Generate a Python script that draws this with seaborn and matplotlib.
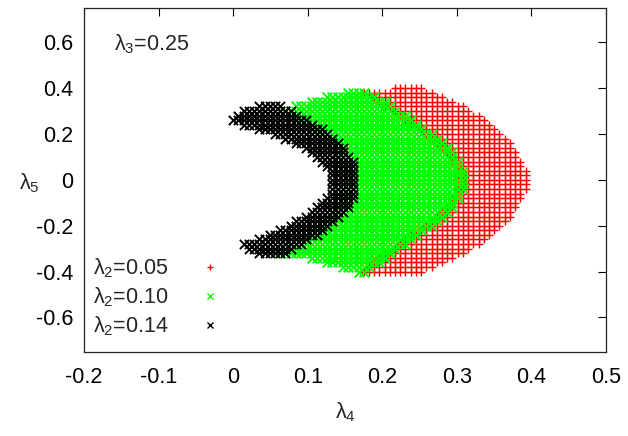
import numpy as np
import pandas as pd
import matplotlib
matplotlib.use("Agg")
import matplotlib.pyplot as plt
import seaborn as sns

# Scan rows: (lambda5 value, lambda4 lower bound, lambda4 upper bound) of each allowed strip
l5_black = [-0.32, -0.30, -0.28, -0.26, -0.24, -0.22, -0.20, -0.18, -0.16, -0.14, -0.12,
            -0.10, -0.08, -0.06, -0.04, -0.02, 0.00, 0.02, 0.04, 0.06, 0.08, 0.10, 0.12,
            0.14, 0.16, 0.18, 0.20, 0.22, 0.24, 0.26, 0.28, 0.30, 0.32]
lo_black = [0.035, 0.020, 0.014, 0.031, 0.046, 0.059, 0.072, 0.083, 0.094, 0.103, 0.110,
            0.117, 0.122, 0.127, 0.130, 0.131, 0.132, 0.131, 0.129, 0.125, 0.119, 0.112, 0.102,
            0.092, 0.080, 0.066, 0.050, 0.033, 0.014, 0.000, 0.004, 0.014, 0.035]
hi_black = [0.071, 0.083, 0.094, 0.104, 0.113, 0.122, 0.130, 0.137, 0.144, 0.149, 0.154,
            0.159, 0.162, 0.164, 0.165, 0.166, 0.166, 0.166, 0.165, 0.163, 0.161, 0.157, 0.153,
            0.148, 0.142, 0.136, 0.128, 0.120, 0.110, 0.100, 0.090, 0.078, 0.066]

l5_green = [-0.40, -0.38, -0.36, -0.34, -0.32, -0.30, -0.28, -0.26, -0.24, -0.22, -0.20,
            -0.18, -0.16, -0.14, -0.12, -0.10, -0.08, -0.06, -0.04, -0.02, 0.00, 0.02, 0.04,
            0.06, 0.08, 0.10, 0.12, 0.14, 0.16, 0.18, 0.20, 0.22, 0.24, 0.26, 0.28, 0.30,
            0.32, 0.34, 0.36, 0.38]
lo_green = [0.163, 0.145, 0.125, 0.100, 0.060, 0.065, 0.075, 0.085, 0.095, 0.103, 0.110,
            0.117, 0.125, 0.130, 0.135, 0.140, 0.143, 0.145, 0.147, 0.148, 0.148, 0.148, 0.147,
            0.145, 0.143, 0.140, 0.135, 0.130, 0.124, 0.117, 0.110, 0.101, 0.092, 0.082, 0.072,
            0.062, 0.078, 0.100, 0.125, 0.150]
hi_green = [0.178, 0.185, 0.197, 0.205, 0.213, 0.222, 0.231, 0.240, 0.248, 0.257, 0.266,
            0.274, 0.282, 0.289, 0.295, 0.300, 0.304, 0.307, 0.309, 0.310, 0.310, 0.310, 0.309,
            0.307, 0.304, 0.300, 0.295, 0.289, 0.282, 0.274, 0.266, 0.257, 0.248, 0.240, 0.231,
            0.222, 0.213, 0.203, 0.193, 0.180]

l5_red = [-0.40, -0.38, -0.36, -0.34, -0.32, -0.30, -0.28, -0.26, -0.24, -0.22, -0.20,
          -0.18, -0.16, -0.14, -0.12, -0.10, -0.08, -0.06, -0.04, -0.02, 0.00, 0.02, 0.04,
          0.06, 0.08, 0.10, 0.12, 0.14, 0.16, 0.18, 0.20, 0.22, 0.24, 0.26, 0.28, 0.30,
          0.32, 0.34, 0.36, 0.38, 0.40]
lo_red = [0.175, 0.178, 0.188, 0.196, 0.203, 0.212, 0.221, 0.230, 0.238, 0.247, 0.256,
          0.264, 0.272, 0.279, 0.285, 0.290, 0.294, 0.297, 0.299, 0.300, 0.300, 0.300, 0.299,
          0.297, 0.294, 0.290, 0.285, 0.279, 0.272, 0.264, 0.256, 0.247, 0.238, 0.230, 0.221,
          0.212, 0.203, 0.193, 0.183, 0.175, 0.215]
hi_red = [0.255, 0.272, 0.286, 0.298, 0.309, 0.319, 0.329, 0.338, 0.346, 0.353, 0.360,
          0.366, 0.371, 0.376, 0.380, 0.384, 0.387, 0.390, 0.392, 0.393, 0.393, 0.393, 0.392,
          0.390, 0.387, 0.384, 0.380, 0.376, 0.371, 0.366, 0.360, 0.353, 0.346, 0.338, 0.329,
          0.319, 0.309, 0.298, 0.286, 0.272, 0.252]

scan_step = 0.007  # lambda4 spacing of the parameter scan

series_labels = [r"$\lambda_2$=0.05", r"$\lambda_2$=0.10", r"$\lambda_2$=0.14"]
series_colors = ["#ff0000", "#00ff00", "#000000"]
series_markers = ["+", "x", "x"]
series_sizes = [34, 48, 44]
series_lw = [1.0, 1.4, 1.4]
x_ticks = [-0.2, -0.1, 0.0, 0.1, 0.2, 0.3, 0.4, 0.5]
x_ticklabels = ["-0.2", "-0.1", "0", "0.1", "0.2", "0.3", "0.4", "0.5"]
y_ticks = [-0.6, -0.4, -0.2, 0.0, 0.2, 0.4, 0.6]
y_ticklabels = ["-0.6", "-0.4", "-0.2", "0", "0.2", "0.4", "0.6"]

FS = 15.5


def scan_points(l5_rows, lo, hi):
    xs, ys = [], []
    for y, a, b in zip(l5_rows, lo, hi):
        grid = np.arange(np.ceil(a / scan_step) * scan_step, b + 1e-9, scan_step)
        xs.extend(grid)
        ys.extend([y] * len(grid))
    return pd.DataFrame({"lambda4": xs, "lambda5": ys})


regions = [scan_points(l5_red, lo_red, hi_red),
           scan_points(l5_green, lo_green, hi_green),
           scan_points(l5_black, lo_black, hi_black)]

sns.set_style("white")
plt.rcParams["font.family"] = ["Liberation Sans", "DejaVu Sans"]
plt.rcParams["mathtext.fontset"] = "custom"
plt.rcParams["mathtext.rm"] = "Liberation Sans"
plt.rcParams["mathtext.it"] = "Liberation Sans"
plt.rcParams["mathtext.default"] = "regular"

fig = plt.figure(figsize=(6.28, 4.36), dpi=100)
ax = fig.add_axes([0.134, 0.193, 0.831, 0.789])

for df, lab, col, mk, sz, lw in zip(regions, series_labels, series_colors,
                                    series_markers, series_sizes, series_lw):
    sns.scatterplot(data=df, x="lambda4", y="lambda5", ax=ax, marker=mk, color=col,
                    s=sz, linewidth=lw, label=lab, legend=False)

ax.set_xlim(-0.2, 0.5)
ax.set_ylim(-0.75, 0.75)
ax.set_xticks(x_ticks)
ax.set_xticklabels(x_ticklabels)
ax.set_yticks(y_ticks)
ax.set_yticklabels(y_ticklabels)
ax.tick_params(direction="in", length=6, width=0.8, top=True, right=True,
               labelsize=FS, colors="black")
ax.tick_params(axis="x", pad=11)
ax.tick_params(axis="y", pad=8)
for sp in ax.spines.values():
    sp.set_color("#222222")
    sp.set_linewidth(0.9)

ax.set_xlabel(r"$\lambda_4$", fontsize=FS, labelpad=9)
ax.set_ylabel(r"$\lambda_5$", fontsize=FS, rotation=0)
ax.yaxis.set_label_coords(-0.105, 0.455)
ax.text(-0.16, 0.59, r"$\lambda_3$=0.25", fontsize=FS, va="center", ha="left")

handles = [plt.Line2D([], [], linestyle="none", marker=m, color=c, markersize=5,
                      markeredgewidth=1.0) for m, c in zip(series_markers, series_colors)]
ax.legend(handles, series_labels, loc="upper left", bbox_to_anchor=(0.017, 0.277),
          frameon=False, markerfirst=False, fontsize=FS, labelspacing=0.25,
          handlelength=2.0, handletextpad=0.9, borderaxespad=0, borderpad=0)

fig.savefig("out.png", dpi=100)
